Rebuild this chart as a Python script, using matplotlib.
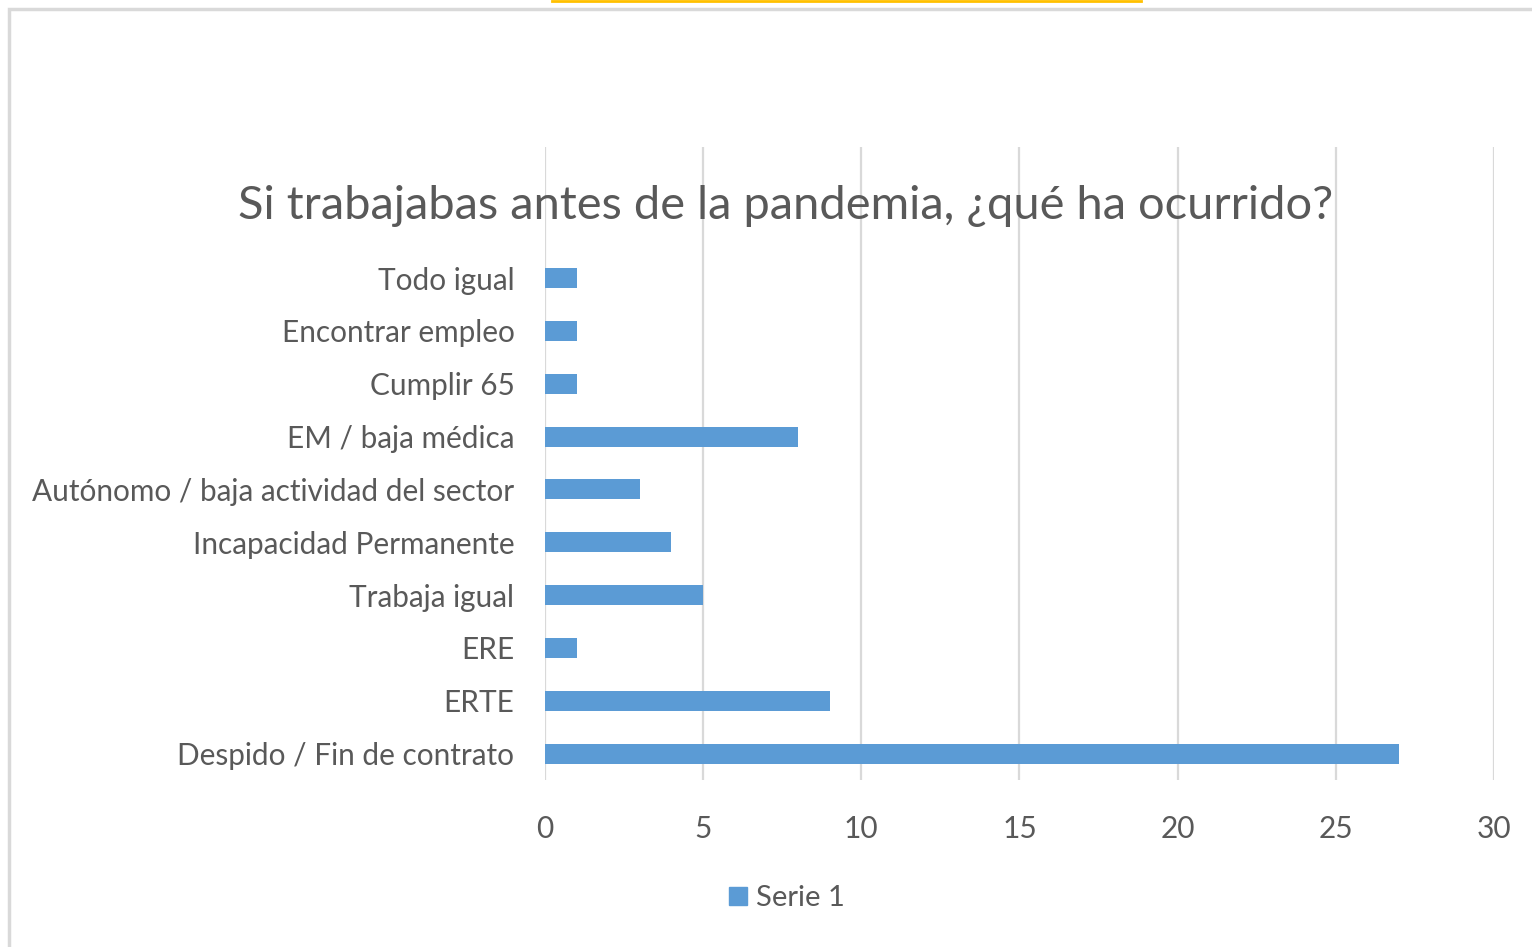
import matplotlib.pyplot as plt
from matplotlib.patches import Rectangle
from matplotlib.lines import Line2D

categorias = ["Despido / Fin de contrato", "ERTE", "ERE", "Trabaja igual",
              "Incapacidad Permanente", "Autónomo / baja actividad del sector",
              "EM / baja médica", "Cumplir 65", "Encontrar empleo", "Todo igual"]
valores = [27, 9, 1, 5, 4, 3, 8, 1, 1, 1]
ticks_x = [0, 5, 10, 15, 20, 25, 30]
titulo = "Si trabajabas antes de la pandemia, ¿qué ha ocurrido?"
serie = "Serie 1"

plt.rcParams['font.family'] = ['Lato', 'DejaVu Sans']
gris = "#595959"
azul = "#5b9bd5"

fig = plt.figure(figsize=(15.32, 9.47), dpi=100)
ax = fig.add_axes([0.3557, 0.1763, 0.6195, 0.6685])

pos = list(range(len(categorias)))
ax.barh(pos, valores, height=0.38, color=azul, zorder=3)
ax.set_xlim(0, 30)
ax.set_ylim(-0.5, 11.48)
ax.set_xticks(ticks_x)
ax.set_yticks(pos)
ax.set_yticklabels(categorias)
ax.grid(axis="x", color="#d9d9d9", linewidth=1.6, zorder=0)
for s in ax.spines.values():
    s.set_visible(False)
ax.tick_params(axis="both", length=0, colors=gris)
ax.tick_params(axis="y", pad=22, labelsize=21.4)
ax.tick_params(axis="x", pad=25, labelsize=21.5)

fig.text(0.513, 0.782, titulo, ha="center", va="center", fontsize=33.8, color=gris)

handle = Line2D([], [], marker="s", linestyle="none", color=azul, markersize=13)
fig.legend([handle], [serie], loc="center", bbox_to_anchor=(0.512, 0.052),
           frameon=False, fontsize=21, labelcolor=gris, handletextpad=0.1,
           handlelength=1.0)

# marco del gráfico y línea amarilla superior
fig.add_artist(Rectangle((9 / 1532, -0.05), 1.1, 1.05 - 9 / 947,
                         transform=fig.transFigure, fill=False,
                         edgecolor="#d9d9d9", linewidth=2.5))
fig.add_artist(Line2D([552 / 1532, 1141 / 1532], [0.999, 0.999],
                      transform=fig.transFigure, color="#ffc000", linewidth=2))

fig.savefig("out.png", dpi=100)
